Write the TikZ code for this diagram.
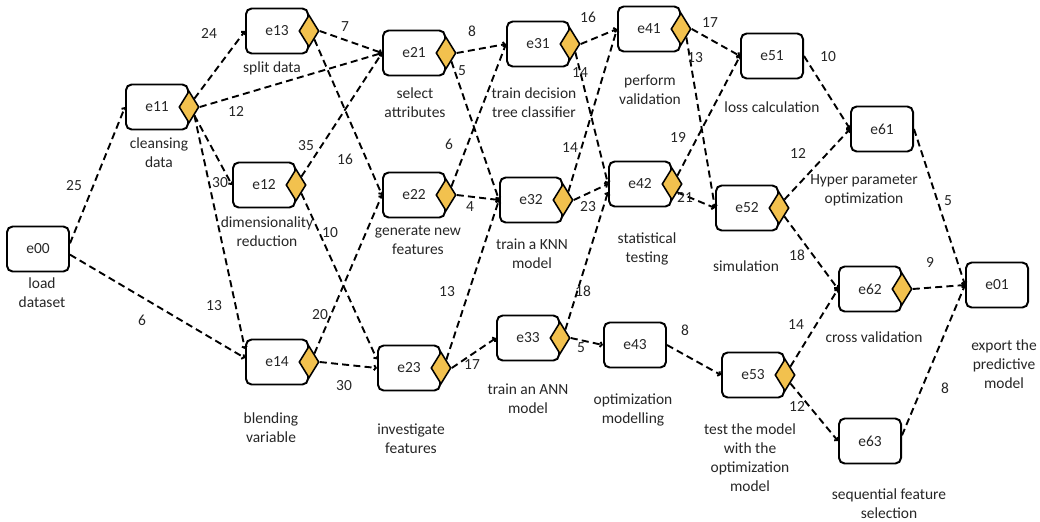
\documentclass[tikz,border=0pt]{standalone}
\usepackage{fontspec}
\setmainfont{Carlito}
\usepackage{xcolor}
\usetikzlibrary{arrows.meta,shapes.geometric}
\definecolor{Gold}{HTML}{F2C14E}
\definecolor{Ink}{HTML}{262626}

\begin{document}
\begin{tikzpicture}[x=0.025cm,y=-0.025cm,
    box/.style={draw, line width=1.4pt, rounded corners=4pt, minimum width=1.55cm, minimum height=1.125cm, text=Ink, font=\fontsize{11pt}{13.5pt}\selectfont},
    gate/.style={diamond, draw, fill=Gold, line width=1.1pt, minimum width=0.5cm, minimum height=0.8cm, inner sep=0pt},
    captxt/.style={align=center, inner sep=0pt, text=Ink, font=\fontsize{11pt}{13.5pt}\selectfont},
    wt/.style={inner sep=0pt, text=Ink, font=\fontsize{11pt}{13.5pt}\selectfont},
    link/.style={line width=1.35pt, dash pattern=on 5pt off 3pt, -{Straight Barb[length=1.3pt,width=3.6pt]}}]
    \useasboundingbox (0,0) rectangle (1040,521);
    \foreach \n/\x/\y in {00/38/249, 11/157/107, 13/277/31, 12/264/185, 14/277/362,
      21/414/53, 22/414/195, 23/409/368, 31/538/44, 32/531/200, 33/528/338,
      41/649/29, 42/640/184, 43/635/345, 51/772/56, 52/747/208, 53/753/375,
      61/882/129, 62/870/289, 63/870/441, 01/997/285} {
      \node[box] (e\n) at (\x,\y) {e\n};
    }
    \foreach \n in {11,13,12,14,21,22,23,31,32,33,41,42,52,53,62} {
      \node[gate] (g\n) at (e\n.east) {};
    }
    \foreach \n/\x/\y/\t in {00/42/292.5/{load\\dataset}, 11/159/152.5/{cleansing\\data},
      13/272/68/{split data}, 12/267/232/{dimensionality\\reduction},
      14/271/427.5/{blending\\variable}, 21/415/102.5/{select\\attributes},
      22/418/240.5/{generate new\\features}, 23/411/439/{investigate\\features},
      31/534/102.5/{train decision\\tree classifier}, 32/532/253.5/{train a KNN\\model},
      33/528/398.5/{train an ANN\\model}, 41/650/90/{perform\\validation},
      42/647/249/{statistical\\testing}, 43/633/409.5/{optimization\\modelling},
      51/772/107/{loss calculation}, 52/746/266/{simulation},
      53/750/457.5/{test the model\\with the\\optimization\\model},
      61/864/190.5/{Hyper parameter\\optimization}, 62/874/337/{cross validation},
      63/889/503.5/{sequential feature\\selection}, 01/1004/364.5/{export the\\predictive\\model}} {
      \node[captxt] (l\n) at (\x,\y) {\t};
    }
    \foreach \a/\b/\w/\x/\y [count=\i] in {e00.10/e11.west/25/74/186, e00.350/e14.173/6/142/320,
      g11.north east/e13.west/24/209/33, g11.east/e21.west/12/236/111,
      g11.south east/e12.west/30/220/183, g11.south east/e14.158/13/214/306,
      g13.east/e21.west/7/345/27, g13.south east/e22.west/16/345/159,
      g12.north east/e21.west/35/306/146, g12.south east/e23.165/10/330/233,
      g14.north east/e22.west/20/320/315, g14.east/e23.west/30/344/386,
      g21.east/e31.west/8/472/31, g21.south east/e32.west/5/462/71,
      g22.north east/e31.west/6/449/144, g22.east/e32.west/4/470/207,
      g23.north east/e32.west/13/447/292, g23.east/e33.west/17/472/365,
      g31.east/e41.west/16/588/17, g31.south east/e42.west/14/580/73,
      g32.north east/e41.west/14/570/148, g32.east/e42.west/23/588/207,
      g33.north east/e42.194/18/583/291, g33.east/e43.west/5/581/348,
      g41.east/e51.west/17/710/23, g41.south east/e52.west/13/695/58,
      g42.north east/e51.west/19/678/137, g42.south east/e52.west/21/685/197,
      e43.east/e53.west/8/685/330, e51.east/e61.west/10/828/57,
      g52.north east/e61.west/12/798/153, g52.south east/e62.west/18/797/255,
      g53.north east/e62.west/14/796/325, g53.south east/e63.west/12/797/406,
      e61.east/e01.west/5/948/201, g62.east/e01.west/9/930/262, e63.10/e01.west/8/945/388} {
      \draw[link] (\a) -- (\b);
      \node[wt] (w\i) at (\x,\y) {\w};
    }
  \end{tikzpicture}
\end{document}
